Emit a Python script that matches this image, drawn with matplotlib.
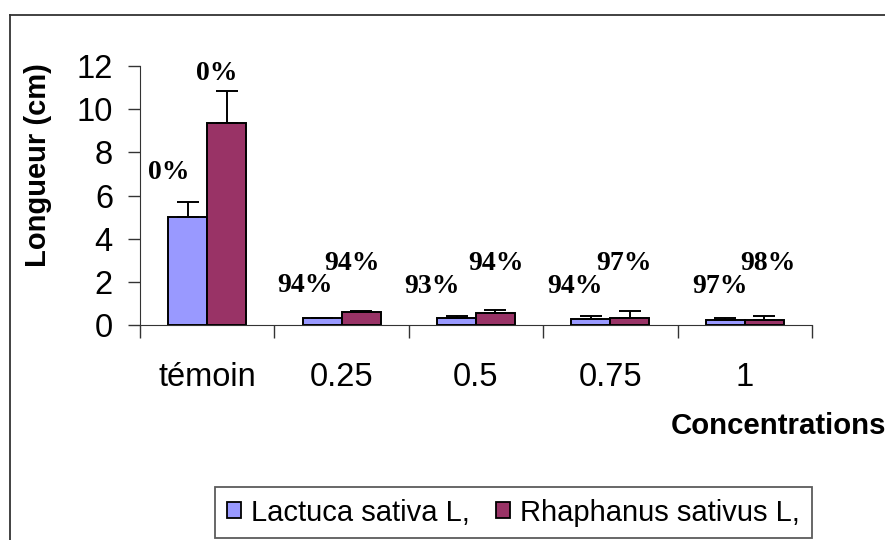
import matplotlib
matplotlib.use("Agg")
import matplotlib.pyplot as plt
import numpy as np
from matplotlib.lines import Line2D

categories = ["témoin", "0.25", "0.5", "0.75", "1"]
series_names = ["Lactuca sativa L,", "Rhaphanus sativus L,"]
lactuca = [5.0, 0.32, 0.33, 0.30, 0.23]
lactuca_err = [0.70, 0.0, 0.11, 0.13, 0.11]
rhaphanus = [9.35, 0.62, 0.54, 0.32, 0.21]
rhaphanus_err = [1.50, 0.02, 0.14, 0.34, 0.22]
lactuca_pct = ["0%", "94%", "93%", "94%", "97%"]
rhaphanus_pct = ["0%", "94%", "94%", "97%", "98%"]
yticks = [0, 2, 4, 6, 8, 10, 12]

# label placement (layout)
lac_lab_dx = [-0.284, -0.272, -0.327, -0.263, -0.185]
lac_lab_y = [7.08, 1.81, 1.78, 1.80, 1.80]
rha_lab_dx = [0.073, 0.077, 0.149, 0.101, 0.173]
rha_lab_y = [11.67, 2.87, 2.87, 2.87, 2.87]

col_lac = "#9999FF"
col_rha = "#993366"

plt.rcParams['font.family'] = ['Liberation Sans', 'DejaVu Sans']

W, H = 885, 540
fig = plt.figure(figsize=(W / 100, H / 100), dpi=100)
ax = fig.add_axes([140 / W, (H - 325) / H, (812 - 140) / W, (325 - 66) / H])

x = np.arange(len(categories))
bw = 0.29
ax.bar(x - bw / 2, lactuca, bw, color=col_lac, edgecolor="black", linewidth=1.4, zorder=2)
ax.bar(x + bw / 2, rhaphanus, bw, color=col_rha, edgecolor="black", linewidth=1.4, zorder=2)
ax.errorbar(x - bw / 2, lactuca, yerr=[np.zeros(5), lactuca_err], fmt="none",
            ecolor="black", elinewidth=1.4, capsize=8, capthick=1.4, zorder=3)
ax.errorbar(x + bw / 2, rhaphanus, yerr=[np.zeros(5), rhaphanus_err], fmt="none",
            ecolor="black", elinewidth=1.4, capsize=8, capthick=1.4, zorder=3)

for i in range(len(categories)):
    ax.text(x[i] + lac_lab_dx[i], lac_lab_y[i], lactuca_pct[i], ha="center", va="center",
            family="Liberation Serif", fontweight="bold", fontsize=20)
    ax.text(x[i] + rha_lab_dx[i], rha_lab_y[i], rhaphanus_pct[i], ha="center", va="center",
            family="Liberation Serif", fontweight="bold", fontsize=20)

ax.set_xlim(-0.5, len(categories) - 0.5)
ax.set_ylim(0, 12)
ax.set_yticks(yticks)
ax.set_yticklabels([str(v) for v in yticks], fontsize=23.5)
ax.tick_params(axis="y", length=8.5, width=1, pad=11, color="#333333")
ax.set_xticks(np.arange(-0.5, len(categories), 1.0), minor=False)
ax.set_xticklabels([])
ax.set_xticks(x, minor=True)
ax.set_xticklabels(categories, minor=True, fontsize=23.5)
ax.tick_params(axis="x", which="major", length=9, width=1, color="#333333")
ax.tick_params(axis="x", which="minor", length=0, pad=27)
for s in ["top", "right"]:
    ax.spines[s].set_visible(False)
ax.spines["left"].set_color("#333333")
ax.spines["bottom"].set_color("#333333")

fig.text(38 / W, 1 - 165 / H, "Longueur (cm)", rotation=90, ha="center", va="center",
         fontsize=21, fontweight="bold")
fig.text(671 / W, 1 - 426 / H, "Concentrations", ha="left", va="center",
         fontsize=21.2, fontweight="bold")

# outer chart frame
fig.add_artist(Line2D([10 / W, 10 / W], [0, 1 - 15 / H], color="#333333", lw=1.3))
fig.add_artist(Line2D([10 / W, 1], [1 - 15 / H, 1 - 15 / H], color="#333333", lw=1.3))

handles = [plt.Rectangle((0, 0), 1, 1, facecolor=col_lac, edgecolor="black", lw=1.3),
           plt.Rectangle((0, 0), 1, 1, facecolor=col_rha, edgecolor="black", lw=1.3)]
leg = fig.legend(handles, series_names, loc="upper left", bbox_to_anchor=(215 / W, 1 - 487 / H),
                 borderaxespad=0, ncol=2, fontsize=21, frameon=True, fancybox=False,
                 handlelength=0.48, handleheight=0.48, handletextpad=0.35,
                 columnspacing=0.9, borderpad=0.4)
leg.get_frame().set_edgecolor("#333333")
leg.get_frame().set_linewidth(1.3)

fig.savefig("out.png", dpi=100)
